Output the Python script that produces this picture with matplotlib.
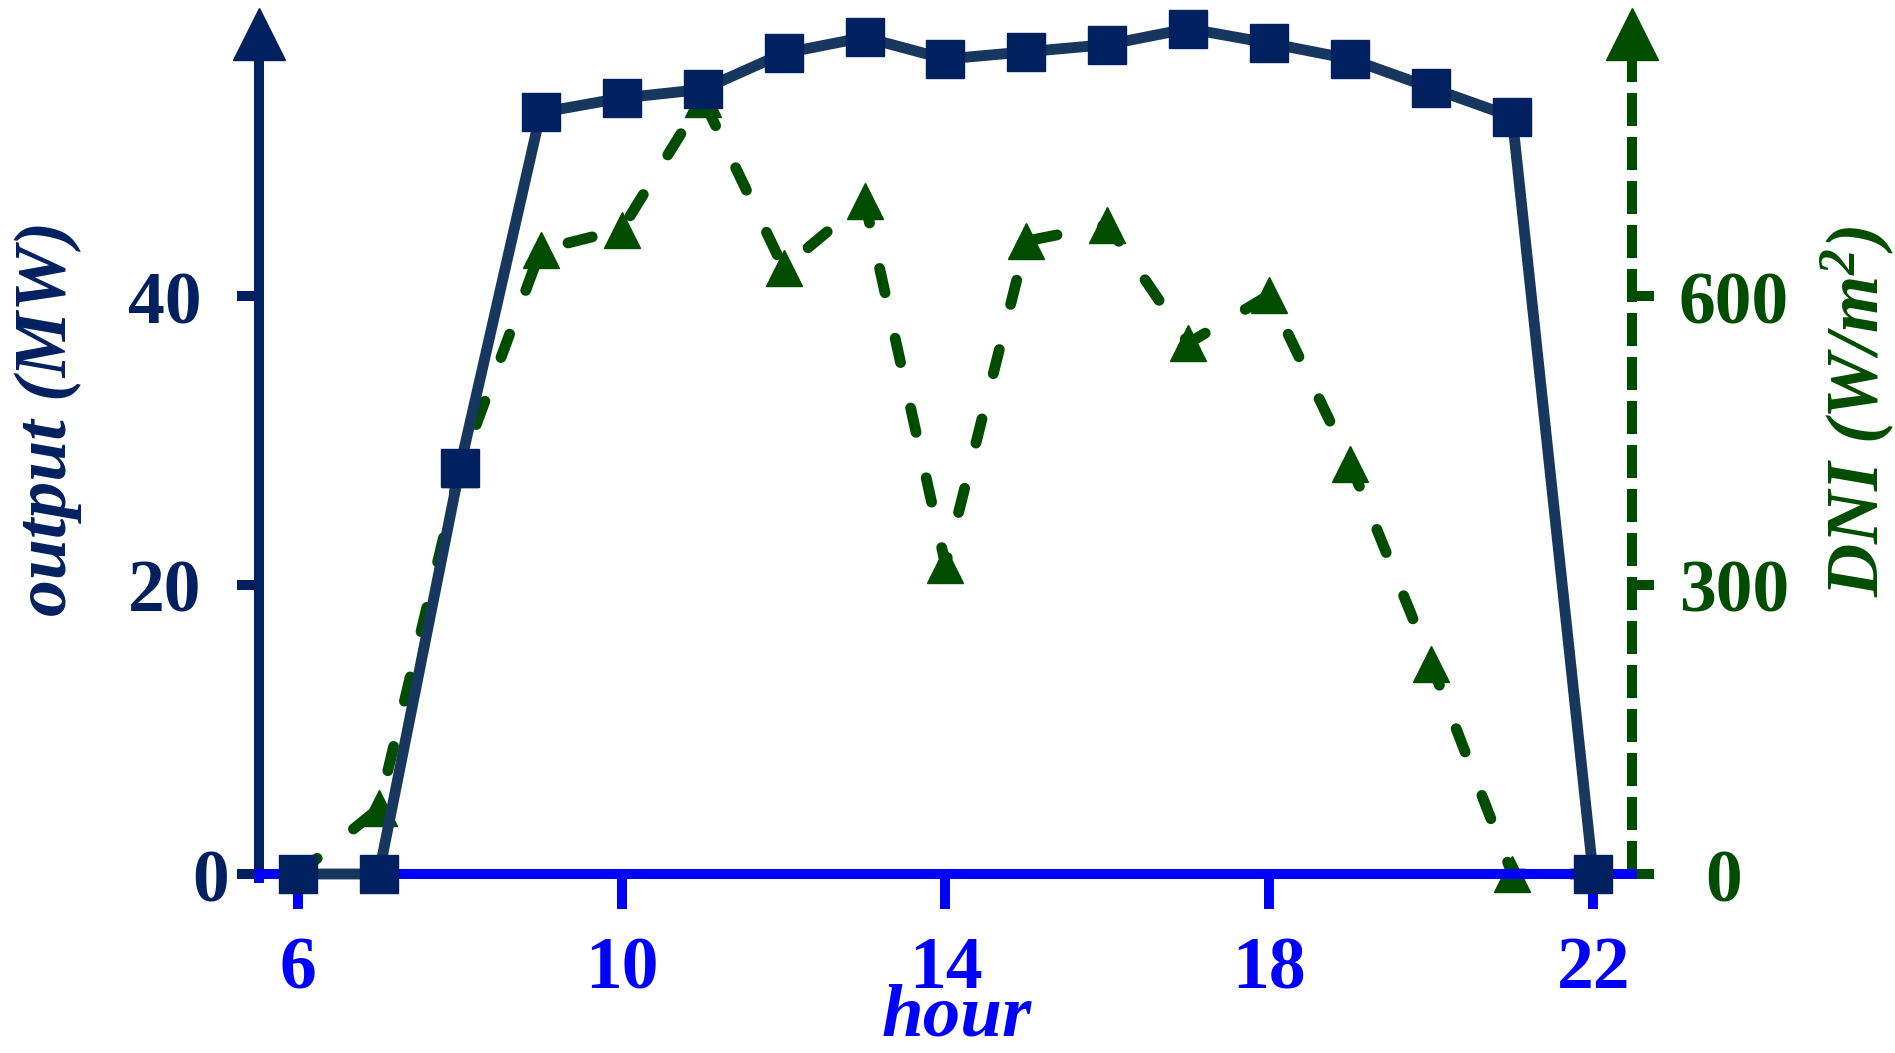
import matplotlib
matplotlib.use("Agg")
import matplotlib.pyplot as plt
import matplotlib.transforms as mtransforms

# data
hours = [6, 7, 8, 9, 10, 11, 12, 13, 14, 15, 16, 17, 18, 19, 20, 21, 22]
output_mw = [0, 0, 28.1, 52.7, 53.7, 54.3, 56.8, 57.9, 56.4, 56.9, 57.4, 58.5, 57.5, 56.4, 54.4, 52.4, 0]
dni = [0, 68, 420, 648, 669, 805, 629, 699, 321, 657, 674, 551, 601, 426, 218, 0, 0]
x_ticks = [6, 10, 14, 18, 22]
left_ticks = [0, 20, 40]
right_ticks = [0, 300, 600]

NAVY = '#002060'
NAVY_LINE = '#17375E'
GREEN = '#004D00'
BLUE = '#0000FF'

plt.rcParams['font.family'] = ['Liberation Serif', 'DejaVu Serif']
plt.rcParams['mathtext.fontset'] = 'custom'
plt.rcParams['mathtext.rm'] = 'Liberation Serif:bold:italic'
plt.rcParams['mathtext.it'] = 'Liberation Serif:bold:italic'
plt.rcParams['mathtext.bf'] = 'Liberation Serif:bold:italic'

W, H = 1895, 1053
fig = plt.figure(figsize=(W / 100, H / 100), dpi=100)
ax = fig.add_axes([259 / W, 179 / H, 1373 / W, 867 / H])
ax2 = ax.twinx()
ax.set_zorder(ax2.get_zorder() + 1)
ax.patch.set_visible(False)

lw = 7.2       # spines and ticks
line_lw = 7.8  # data lines
tick_fs = 53

# output line (left axis)
ax.plot(hours, output_mw, color=NAVY_LINE, lw=line_lw, marker='s', markersize=27,
        markerfacecolor=NAVY, markeredgecolor=NAVY, zorder=3, clip_on=False)

# DNI line (right axis)
ax2.plot(hours, dni, color=GREEN, lw=line_lw, ls=(0, (2.3, 4.3)), dash_capstyle='round',
         marker='^', markersize=26, markerfacecolor=GREEN, markeredgecolor=GREEN,
         clip_on=False, zorder=2)

ax.set_xlim(5.52, 22.48)
ax.set_ylim(0, 60)
ax2.set_ylim(0, 900)

# spines
for s in ['top', 'right']:
    ax.spines[s].set_visible(False)
for s in ['top', 'left', 'bottom']:
    ax2.spines[s].set_visible(False)
ax.spines['left'].set_color(NAVY)
ax.spines['left'].set_linewidth(lw)
ax.spines['left'].set_bounds(0, 57)
ax.spines['bottom'].set_color(BLUE)
ax.spines['bottom'].set_linewidth(lw)
ax.spines['bottom'].set_capstyle('projecting')
ax2.spines['right'].set_color(GREEN)
ax2.spines['right'].set_linewidth(lw)
ax2.spines['right'].set_capstyle('butt')
ax2.spines['right'].set_linestyle((0, (3.3, 1.1)))
ax2.spines['right'].set_bounds(0, 855)

# ticks
ax.set_xticks(x_ticks)
ax.set_yticks(left_ticks)
ax2.set_yticks(right_ticks)
ax.tick_params(axis='x', direction='out', length=25, width=lw, color=BLUE, labelbottom=False)
ax.tick_params(axis='y', direction='out', length=16, width=lw, color=NAVY, labelleft=False)
ax2.tick_params(axis='y', direction='out', length=16, width=lw, color=GREEN, labelright=False)

# small blue stub under the left spine
ax.plot([5.52, 5.52], [0, -0.6], color=BLUE, lw=lw, solid_capstyle='butt', clip_on=False, zorder=2.6)

# axis arrows
ax.plot([5.52], [58.1], marker='^', markersize=37, color=NAVY, clip_on=False, zorder=4)
ax2.plot([22.48], [872], marker='^', markersize=38, color=GREEN, clip_on=False, zorder=4)

# tick labels as text
down = mtransforms.ScaledTranslation(0, -27 / 100, fig.dpi_scale_trans)
tr_left = mtransforms.blended_transform_factory(ax.transAxes, ax.transData) + down
for t in left_ticks:
    xpos = -0.035 if t == 0 else -0.0685
    ax.text(xpos, t, str(t), transform=tr_left, ha='center', va='baseline',
            fontsize=tick_fs, fontweight='bold', color=NAVY)
tr_right = mtransforms.blended_transform_factory(ax2.transAxes, ax2.transData) + down
for t in right_ticks:
    xpos = 1.067 if t == 0 else 1.0743
    ax2.text(xpos, t, str(t), transform=tr_right, ha='center', va='baseline',
             fontsize=tick_fs, fontweight='bold', color=GREEN)
tr_x = mtransforms.blended_transform_factory(ax.transData, ax.transAxes)
for t in x_ticks:
    ax.text(t, -0.1315, str(t), transform=tr_x, ha='center', va='baseline',
            fontsize=tick_fs, fontweight='bold', color=BLUE)

# axis labels
fig.text(957 / W, 0.001, 'hour', ha='center', va='bottom', fontsize=54,
         fontweight='bold', fontstyle='italic', color=BLUE)
fig.text(48 / W, 1 - 418 / H, 'output (MW)', ha='center', va='center', rotation=90,
         fontsize=53, fontweight='bold', fontstyle='italic', color=NAVY)
fig.text(1858 / W, 1 - 411 / H, r'DNI (W/m$^2$)', ha='center', va='center', rotation=90,
         fontsize=53, fontweight='bold', fontstyle='italic', color=GREEN)

fig.savefig('out.png', dpi=100)
